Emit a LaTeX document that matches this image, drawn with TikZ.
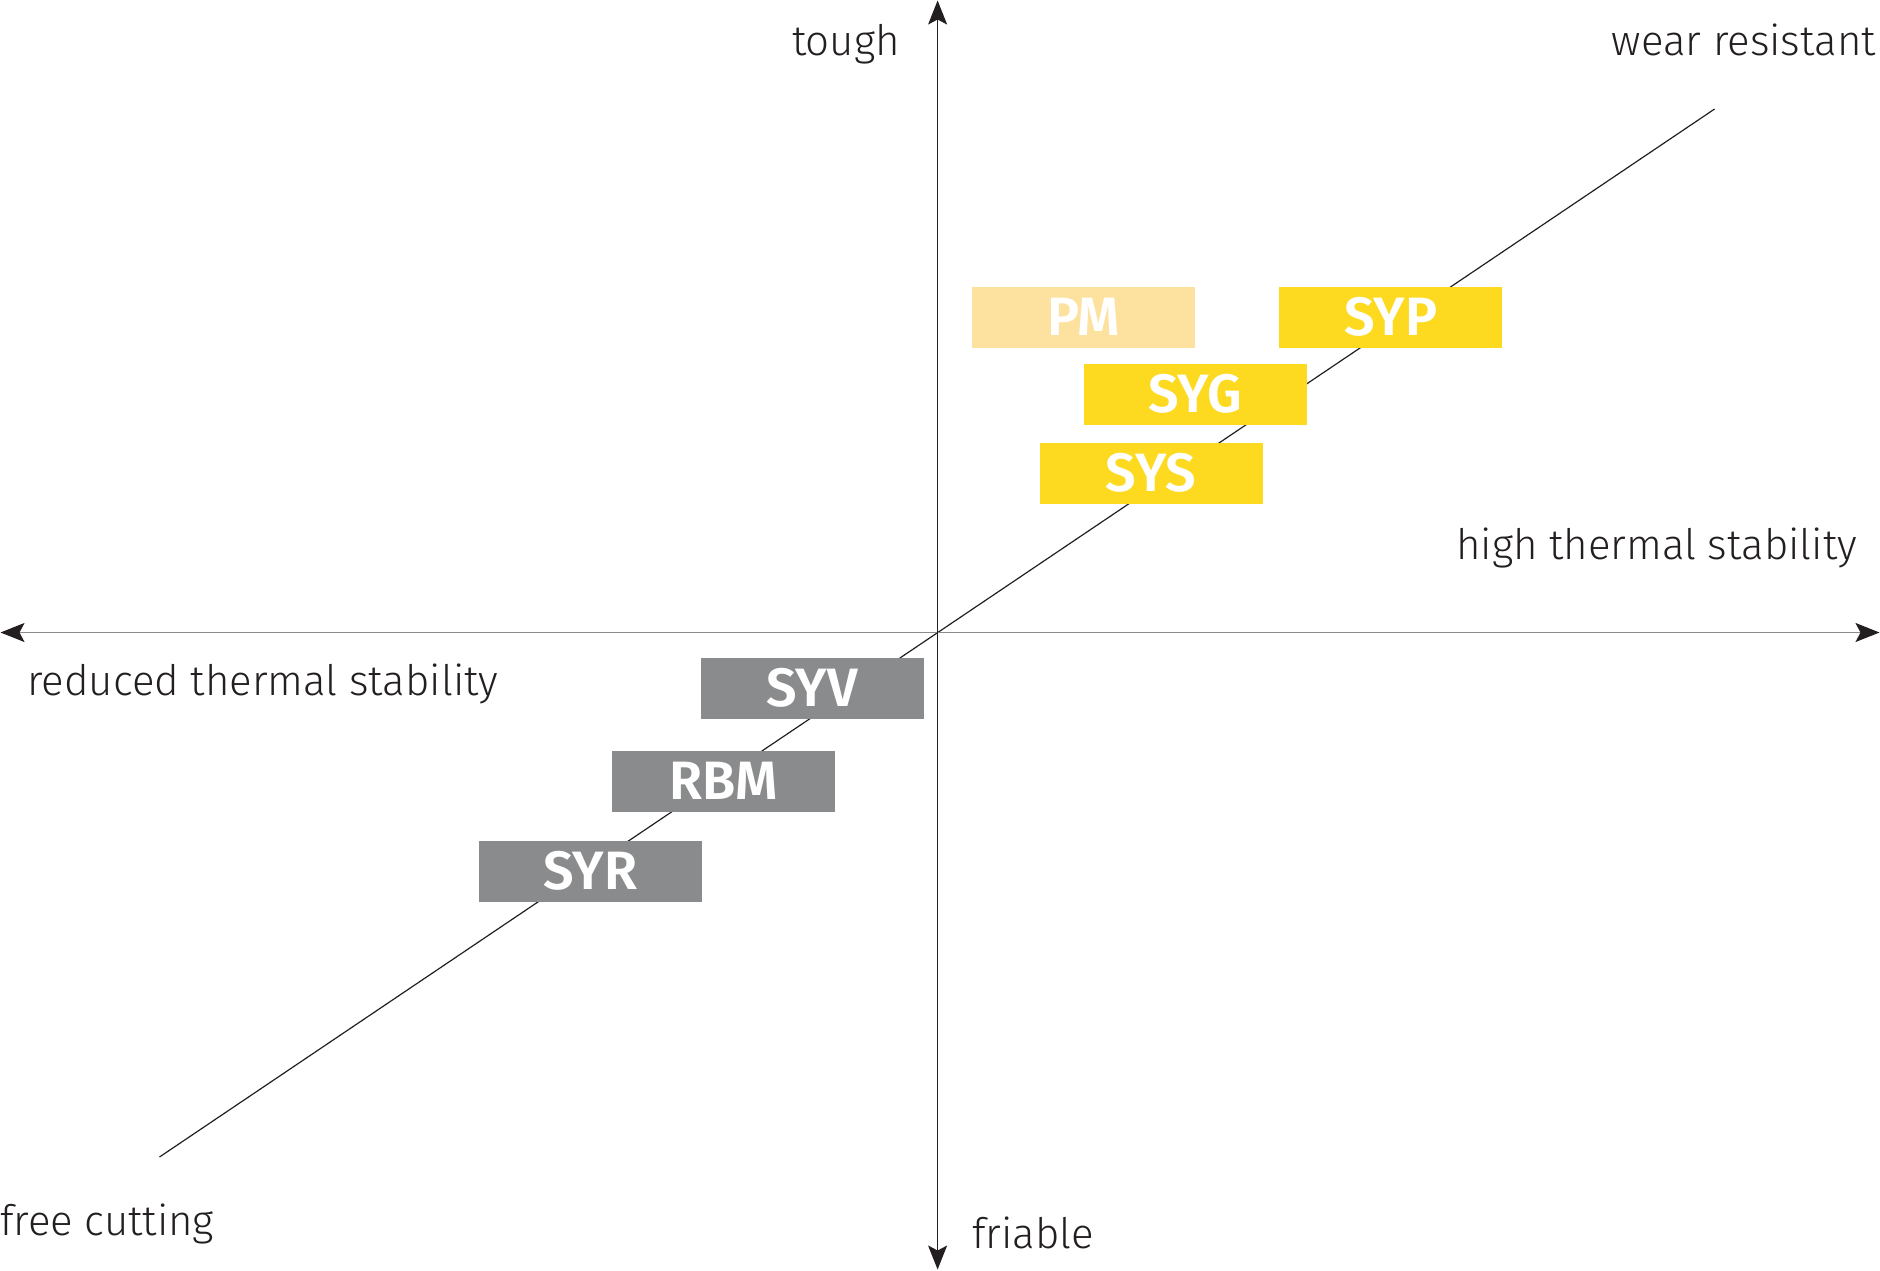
\documentclass[tikz,border=0pt]{standalone}
\usepackage{fontspec}
\setmainfont{Fira Sans}[UprightFont=* Light, BoldFont=* SemiBold]
\usetikzlibrary{arrows.meta}
\definecolor{ylw}{HTML}{FDDA20}
\definecolor{ylwlight}{HTML}{FDE19F}
\definecolor{gry}{HTML}{8A8B8D}
\definecolor{ink}{HTML}{231F20}
\begin{document}
\begin{tikzpicture}[x=1pt,y=-1pt,
  tip/.style={-{Stealth[length=24pt,width=19pt,inset=5pt,color=ink]}},
  box/.style={minimum width=223pt,minimum height=61pt,inner sep=0pt,text=white,font=\fontsize{54}{54}\selectfont\bfseries},
  lbl/.style={inner sep=0pt,text=ink,font=\fontsize{42}{45}\selectfont}]
\useasboundingbox (0,0) rectangle (1880,1270);
\coordinate (o) at (937.6,632.5);
\coordinate (top) at (937.6,0.5);
\coordinate (bot) at (937.6,1269.5);
\coordinate (left) at (0.5,632.5);
\coordinate (right) at (1879.5,632.5);
\coordinate (dlo) at (159.5,1157);
\coordinate (dhi) at (1714.6,109);
\draw[line width=1.2pt,ink] (dlo) -- (dhi);
\draw[tip,line width=1.6pt,gry] (o) -- (right);
\draw[tip,line width=1.6pt,gry] (o) -- (left);
\draw[tip,line width=1.3pt,ink] (o) -- (top);
\draw[tip,line width=1.3pt,ink] (o) -- (bot);
\node[box,fill=ylwlight] (pm) at (1083.7,317) {PM};
\node[box,fill=ylw] (syp) at (1390.7,317) {SYP};
\node[box,fill=ylw] (syg) at (1195,394) {SYG};
\node[box,fill=ylw] (sys) at (1151,473) {SYS};
\node[box,fill=gry] (syv) at (812,688) {SYV};
\node[box,fill=gry] (rbm) at (723.6,781) {RBM};
\node[box,fill=gry] (syr) at (590.5,871) {SYR};
\node[lbl,anchor=base east] (tough) at (900,55.5) {tough};
\node[lbl,anchor=base east] (wear) at (1876,55.5) {wear resistant};
\node[lbl,anchor=base east] (high) at (1857,559) {high thermal stability};
\node[lbl,anchor=base west] (red) at (27,695) {reduced thermal stability};
\node[lbl,anchor=base west] (free) at (0,1235) {free cutting};
\node[lbl,anchor=base west] (fri) at (972,1248) {friable};
\end{tikzpicture}
\end{document}
